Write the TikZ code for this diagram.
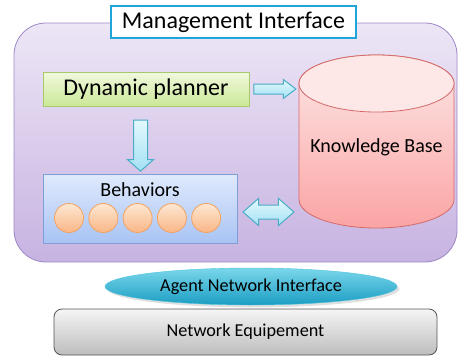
\documentclass[tikz,border=0pt]{standalone}
\usepackage{fontspec}
\setmainfont{Carlito}
\usetikzlibrary{positioning,shapes.geometric,shapes.arrows,shadows}
\definecolor{bgtop}{HTML}{EDE6F6}
\definecolor{bgbot}{HTML}{C7B3E1}
\definecolor{bgline}{HTML}{9D87C7}
\definecolor{mgline}{HTML}{1FA5D8}
\definecolor{pltop}{HTML}{F1F9DE}
\definecolor{plbot}{HTML}{CBE897}
\definecolor{plline}{HTML}{A8CA6A}
\definecolor{artop}{HTML}{E4F8FD}
\definecolor{arbot}{HTML}{A3E1F4}
\definecolor{arline}{HTML}{4BACC6}
\definecolor{kbtop}{HTML}{FDE7E7}
\definecolor{kbbot}{HTML}{FBA4A4}
\definecolor{kbline}{HTML}{D46A6A}
\definecolor{bhtop}{HTML}{E0EAFC}
\definecolor{bhbot}{HTML}{A8C3F4}
\definecolor{bhline}{HTML}{7E9FD6}
\definecolor{ortop}{HTML}{FDE7D2}
\definecolor{orbot}{HTML}{F9B687}
\definecolor{orline}{HTML}{F2A35F}
\definecolor{antop}{HTML}{7AD7EB}
\definecolor{anbot}{HTML}{1C9DC3}
\definecolor{anline}{HTML}{4CC4DD}
\definecolor{netop}{HTML}{F5F5F5}
\definecolor{nebot}{HTML}{BDBDBD}
\definecolor{neline}{HTML}{555555}
\begin{document}
\begin{tikzpicture}[x=1pt,y=-1pt,
	bigfont/.style={font=\fontsize{24}{28}\selectfont},
	midfont/.style={font=\fontsize{20}{24}\selectfont},
	smallfont/.style={font=\fontsize{18.2}{22}\selectfont},
	blockarrow/.style={single arrow,draw=arline,top color=artop,bottom color=arbot,
		minimum width=0pt,line width=1pt},
	ball/.style={circle,draw=orline,top color=ortop,bottom color=orbot,
		minimum size=29pt,inner sep=0pt,line width=.8pt}]
	%
	\useasboundingbox (0,0) rectangle (460,356);
	\def\ballgap{34.3}
	\def\kbrx{77.5}
	\def\kbry{28.5}
	% agent frame
		\node [draw=bgline,top color=bgtop,bottom color=bgbot,rounded corners=32pt,
			minimum width=443pt,minimum height=239pt,line width=.8pt] (agent) at (235.5,142.5) {};
		\node [draw=mgline,fill=white,line width=1.5pt,minimum width=245pt,minimum height=32pt,
			inner sep=0pt,bigfont] (mgmt) at (233.5,22) {Management Interface};
	% planner and behaviors
		\node [draw=plline,top color=pltop,bottom color=plbot,minimum width=206pt,minimum height=34pt,
			line width=.8pt,bigfont] (planner) at (146,89) {Dynamic planner};
		\node [draw=bhline,top color=bhtop,bottom color=bhbot,minimum width=194pt,minimum height=69pt,
			line width=.8pt] (behav) at (140,208.5) {};
		\node [midfont,below=5pt of behav.north] (behavlbl) {Behaviors};
		\foreach \i in {0,...,4}
			\node [ball] (b\i) at (69+\ballgap*\i,218) {};
	% knowledge base
		\draw [draw=kbline,top color=kbtop,bottom color=kbbot,line width=.8pt]
			(376.5-\kbrx,83.5) -- (376.5-\kbrx,199.5) arc [start angle=180,end angle=0,x radius=\kbrx,y radius=\kbry]
			-- (376.5+\kbrx,83.5) arc [start angle=0,end angle=-180,x radius=\kbrx,y radius=\kbry] -- cycle;
		\draw [draw=kbline,fill=kbtop,line width=.8pt] (376.5,83.5) ellipse [x radius=\kbrx,y radius=\kbry];
		\node [midfont] (kb) at (376.5,147) {Knowledge Base};
	% block arrows
		\node [blockarrow,inner xsep=0pt,inner ysep=4.5pt,single arrow head extend=4.5pt,single arrow tip angle=74,
			minimum height=42pt,right=4pt of planner] (a1) {};
		\node [blockarrow,inner ysep=0pt,inner xsep=6.5pt,single arrow head extend=6pt,single arrow tip angle=97,
			minimum height=51pt,shape border rotate=270] (a2) at (140.5,142.5) {};
		\node [blockarrow,double arrow,inner xsep=0pt,inner ysep=6.5pt,double arrow head extend=6.5pt,double arrow tip angle=82,
			minimum height=51pt] (a3) at (268.5,212) {};
	% network side
		\node [ellipse,draw=anline,top color=antop,bottom color=anbot,minimum width=292pt,minimum height=37pt,
			inner sep=0pt,drop shadow={opacity=.25},smallfont] (ani) at (251,286.5) {Agent Network Interface};
		\node [draw=neline,top color=netop,bottom color=nebot,rounded corners=8pt,minimum width=383pt,
			minimum height=46pt,line width=.8pt,smallfont] (neteq) at (245.5,332) {Network Equipement};
\end{tikzpicture}
\end{document}
